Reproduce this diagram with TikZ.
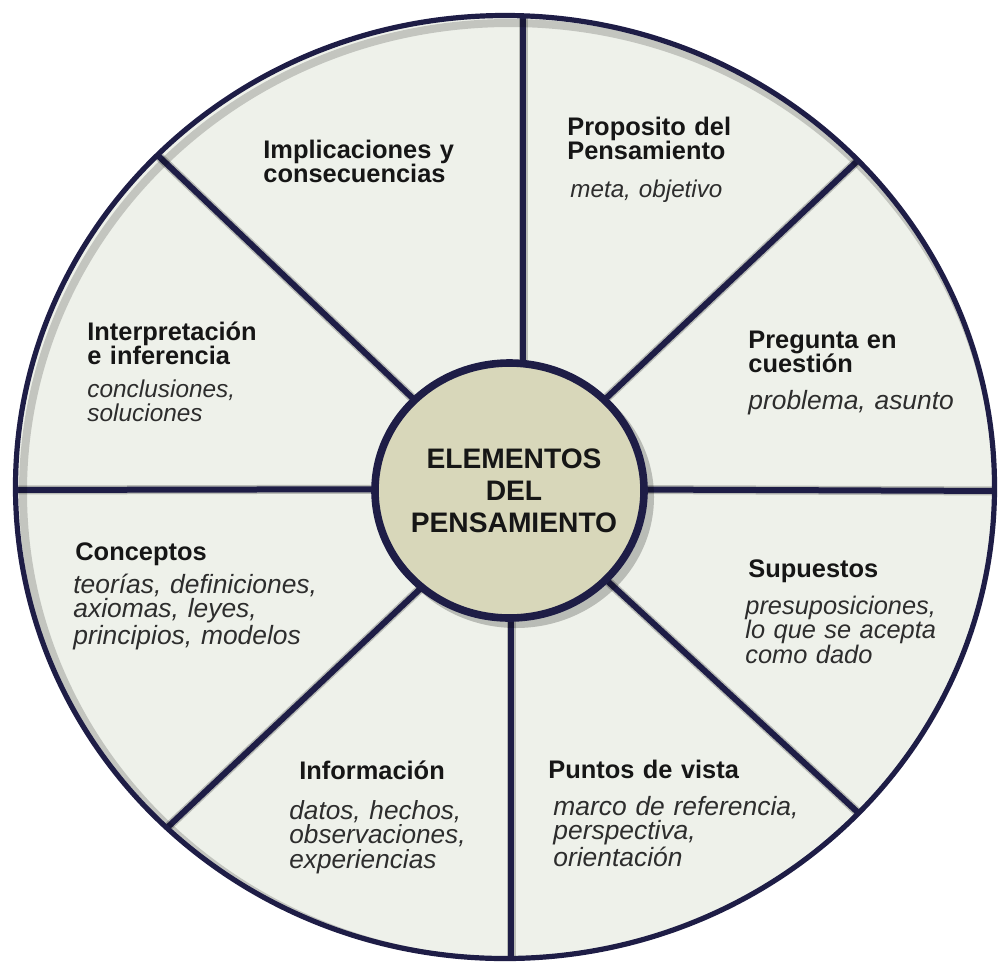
\documentclass[tikz,border=0pt]{standalone}
\usepackage{fontspec}
\setmainfont{Liberation Sans}
\usetikzlibrary{shapes.geometric}
\definecolor{navy}{RGB}{30,29,70}
\definecolor{wheelbg}{RGB}{238,241,234}
\definecolor{corefill}{RGB}{216,215,186}
\definecolor{titlecol}{RGB}{22,22,22}
\definecolor{desccol}{RGB}{45,45,45}
\tikzset{
  spoke/.style={draw=navy, line width=3pt},
  spokeshadow/.style={draw=black, opacity=0.22, line width=4.5pt, shift={(4,4)}},
  ttl/.style={anchor=base west, inner sep=0pt, text width=150pt, align=left, text=titlecol,
     font=\fontsize{12.7}{12.25}\selectfont\bfseries},
  desc/.style={anchor=base west, inner sep=0pt, text width=150pt, align=left, text=desccol,
     font=\fontsize{#1}{12.25}\selectfont\itshape},
  coretext/.style={anchor=base, inner sep=0pt, text width=160pt, align=center, text=titlecol,
     font=\fontsize{14.1}{16}\selectfont\bfseries},
  corenode/.style={ellipse, draw=navy, line width=3.8pt, fill=corefill,
     minimum width=134.5pt, minimum height=127.5pt, inner sep=0pt, outer sep=0pt},
  wheelnode/.style={ellipse, fill=wheelbg, minimum width=489.5pt, minimum height=471.5pt,
     inner sep=0pt, outer sep=0pt}
}
\begin{document}
\lineskiplimit=-20pt
\begin{tikzpicture}[x=0.5pt,y=-0.5pt]
\fill[white] (0,0) rectangle (1000,965);
\useasboundingbox (0,0) rectangle (1000,965);

% wheel background
\node[wheelnode] (wheel) at (505,487) {};

% spoke end points
\coordinate (s1a) at (523,490); \coordinate (s1b) at (523,-10);
\coordinate (s2a) at (509,490); \coordinate (s2b) at (924,98);
\coordinate (s3a) at (509,489); \coordinate (s3b) at (1010,491);
\coordinate (s4a) at (509,490); \coordinate (s4b) at (931,880);
\coordinate (s5a) at (511,490); \coordinate (s5b) at (511,975);
\coordinate (s6a) at (509,505); \coordinate (s6b) at (117,875);
\coordinate (s7a) at (509,489); \coordinate (s7b) at (-10,490);
\coordinate (s8a) at (509,490); \coordinate (s8b) at (107,107);

\begin{scope}
  \clip (505,487) ellipse [x radius=489.5, y radius=471.5];
  \foreach \i in {1,...,8} {\draw[spokeshadow] (s\i a) -- (s\i b);}
  \foreach \i in {1,...,8} {\draw[spoke] (s\i a) -- (s\i b);}
  \draw[black, opacity=0.18, line width=4pt] (510,492) ellipse [x radius=487, y radius=469];
\end{scope}

% outer rim
\draw[navy, line width=2.6pt] (505,487) ellipse [x radius=489.5, y radius=471.5];

% core
\fill[black, opacity=0.22] (516,497) ellipse [x radius=138, y radius=131];
\node[corenode] (core) at (509.5,490.5) {};
\node[coretext] (ctext) at (514,468) {ELEMENTOS\\DEL\\PENSAMIENTO};

% sector texts
\node[ttl] (t1) at (263,158) {Implicaciones y\\consecuencias};

\node[ttl] (t2) at (567,135) {Proposito del\\Pensamiento};
\node[desc=12.1] (d2) at (570,197) {meta, objetivo};

\node[ttl] (t3) at (87,340) {Interpretación\\e inferencia};
\node[desc=12.2] (d3) at (87,397) {conclusiones,\\soluciones};

\node[ttl] (t4) at (748,348) {Pregunta en\\cuestión};
\node[desc=13.2] (d4) at (748,409) {problema, asunto};

\node[ttl] (t5) at (75,560) {Conceptos};
\node[desc=13.2] (d5) at (73,593) {teorías, definiciones,\\axiomas, leyes,\\principios, modelos};

\node[ttl] (t6) at (748,577) {Supuestos};
\node[desc=12.7] (d6) at (745,614) {presuposiciones,\\lo que se acepta\\como dado};

\node[ttl] (t7) at (299,779) {Información};
\node[desc=13.1] (d7) at (289,819) {datos, hechos,\\observaciones,\\experiencias};

\node[ttl] (t8) at (548,778) {Puntos de vista};
\node[desc=13.2] (d8) at (553,815) {marco de referencia,\\perspectiva,\\orientación};
\end{tikzpicture}
\end{document}
